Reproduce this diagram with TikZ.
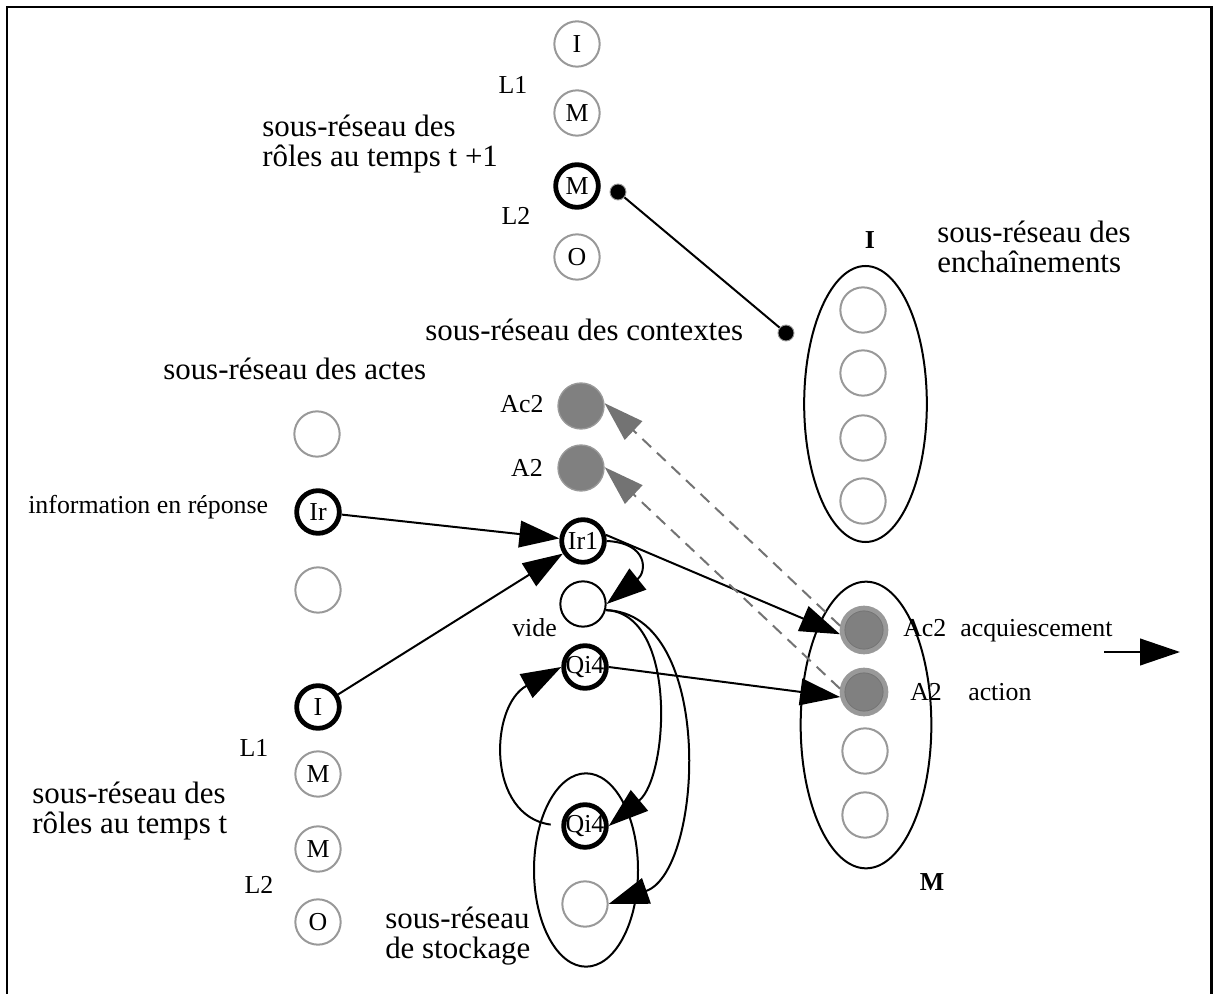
\documentclass[tikz,border=0pt]{standalone}
\usepackage{fontspec}
\setmainfont{Liberation Serif}
\usetikzlibrary{shapes.geometric,arrows.meta,calc}
\definecolor{cgray}{HTML}{999999}
\definecolor{cfill}{HTML}{808080}
\definecolor{cdash}{HTML}{737373}
\begin{document}
\begin{tikzpicture}[x=0.75pt,y=-0.75pt,
  big/.style={font=\fontsize{23.2}{22.5}\selectfont, align=left, inner sep=0pt},
  small/.style={font=\fontsize{19.4}{19}\selectfont, inner sep=0pt},
  bld/.style={font=\fontsize{19.4}{19}\selectfont\bfseries, inner sep=0pt},
  gnode/.style={circle, draw=cgray, line width=1.5pt, minimum size=34pt, inner sep=0pt, font=\fontsize{19.4}{19}\selectfont},
  tnode/.style={circle, draw=black, line width=3.6pt, minimum size=32pt, inner sep=0pt, font=\fontsize{19.4}{19}\selectfont},
  vnode/.style={circle, draw=black, line width=1.5pt, minimum size=34pt, inner sep=0pt},
  fnode/.style={circle, draw=cgray, fill=cfill, line width=1pt, minimum size=34.5pt, inner sep=0pt},
  fnodeb/.style={circle, draw=cgray, fill=cfill, line width=3.5pt, minimum size=33pt, inner sep=0pt,
    path picture={\draw[black!55, line width=0.5pt] (path picture bounding box.center) circle (14.3pt);}},
  dot/.style={circle, fill=black, draw=cgray, line width=0.7pt, minimum size=12pt, inner sep=0pt},
  oval/.style={ellipse, draw=black, line width=1.5pt, inner sep=0pt},
  conn/.style={line width=1.5pt},
  arr/.style={conn, -{Triangle[length=30pt, width=20pt]}},
  dasharr/.style={line width=1.5pt, cdash, dash pattern=on 9pt off 6pt, -{Triangle[length=30pt, width=19pt]}}
]
\useasboundingbox (0,0) rectangle (1213,994);
% frame
\draw[line width=1.6pt] (7,994) -- (7,7) -- (1211.5,7) -- (1211.5,994);

% ---- roles at t+1
\node[gnode] (tI) at (577,44) {I};
\node[gnode] (tM1) at (577,113) {M};
\node[tnode] (tM2) at (577,186) {M};
\node[gnode] (tO) at (577,257) {O};
\node[small] (tL1) at (513,85) {L1};
\node[small] (tL2) at (516,216) {L2};
\node[big, anchor=base west] (tT) at (262,167) {sous-réseau des\\rôles au temps t +1};

\node[dot] (d1) at (618,192) {};
\node[dot] (d2) at (786,333) {};
\draw[conn] (d1) -- (d2);

% ---- enchainements
\node[oval, minimum width=92pt, minimum height=207pt] (ench) at (865.5,404) {};
\node[gnode] (e1) at (863,310) {};
\node[gnode] (e2) at (863,373) {};
\node[gnode] (e3) at (863,438) {};
\node[gnode] (e4) at (863,501) {};
\node[bld] (eI) at (870,240) {I};
\node[big, anchor=base west] (eT) at (937,273) {sous-réseau des\\enchaînements};

% ---- contextes
\node[big, anchor=base west] (cT) at (425,341) {sous-réseau des contextes};
\node[fnode] (uAc2) at (581,406) {};
\node[fnode] (uA2) at (581,468) {};
\node[small] (uAc2l) at (522,404) {Ac2};
\node[small] (uA2l) at (527,468) {A2};
\node[tnode] (Ir1) at (583,541) {\makebox[0pt]{Ir1}};
\node[vnode] (vide) at (583,604) {};
\node[small, anchor=base west] (videl) at (512,636) {vide};
\node[tnode] (QiA) at (585,667) {\makebox[0pt]{Qi4}};

% ---- stockage
\node[oval, minimum width=78pt, minimum height=145pt] (stock) at (586,870) {};
\node[tnode] (QiB) at (585,826) {\makebox[0pt]{Qi4}};
\node[gnode] (sG) at (585,904) {};
\node[big, anchor=base west] (sT) at (385,958) {sous-réseau\\de stockage};

% ---- actes
\node[big, anchor=base west] (aT) at (163,380) {sous-réseau des actes};
\node[gnode] (a1) at (317,434) {};
\node[tnode] (Ir) at (318,512) {Ir};
\node[small, anchor=base west] (IrT) at (28,513) {information en réponse};
\node[gnode] (a3) at (318,590) {};

% ---- roles at t
\node[tnode] (bI) at (318,707) {I};
\node[gnode] (bM1) at (318,774) {M};
\node[gnode] (bM2) at (318,849) {M};
\node[gnode] (bO) at (318,922) {O};
\node[small] (bL1) at (254,748) {L1};
\node[small] (bL2) at (259,885) {L2};
\node[big, anchor=base west] (bT) at (32,833) {sous-réseau des\\rôles au temps t};

% ---- lower right (M)
\node[oval, minimum width=98pt, minimum height=215pt] (mOval) at (866,725) {};
\node[fnodeb] (lAc2) at (864,630) {};
\node[fnodeb] (lA2) at (864,692) {};
\node[gnode] (l3) at (865,751) {};
\node[gnode] (l4) at (865,815) {};
\node[small, anchor=base west] (lAc2l) at (903,636) {Ac2};
\node[small, anchor=base west] (acq) at (960,636) {acquiescement};
\node[small, anchor=base west] (lA2l) at (910,700) {A2};
\node[small, anchor=base west] (act) at (968,700) {action};
\node[bld] (mM) at (932,882) {M};
\coordinate (outA) at (1104,652);
\coordinate (outB) at (1180,652);
\draw[arr] (outA) -- (outB);

% ---- connectors
\draw[arr] (Ir) -- (Ir1);
\draw[arr] (bI) -- (Ir1);
\draw[arr] (Ir1.15) -- (lAc2.190);
\draw[arr] (QiA.east) -- (lA2.192);
\draw[arr] (Ir1.east) .. controls +(42,2) and +(40,-32) .. (vide.east);
\draw[arr] (vide.-15) .. controls +(72,3) and +(60,-50) .. (QiB.east);
\draw[arr] (vide.-15) .. controls +(110,3) and +(95,-33) .. (sG.east);
\draw[arr, shorten <=8pt] (QiB.west) .. controls +(-75,-10) and +(-72,39) .. (QiA.west);
\draw[dasharr] (lAc2.170) -- (uAc2.7);
\draw[dasharr] (lA2.172) -- (uA2.2);
\end{tikzpicture}
\end{document}
